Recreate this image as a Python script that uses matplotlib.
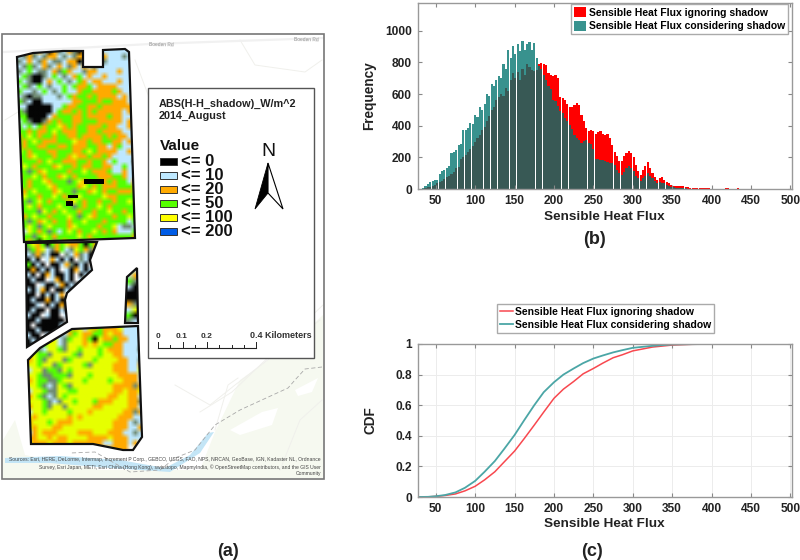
import numpy as np
import matplotlib
matplotlib.use('Agg')
import matplotlib.pyplot as plt
from matplotlib.colors import to_rgb
from matplotlib.patches import Polygon, Rectangle

plt.rcParams['font.family'] = ['Liberation Sans', 'DejaVu Sans']

# histogram counts, one value per 3 unit bin starting at 31
teal_counts = [2, 8, 20, 30, 42, 48, 55, 58, 95, 115, 120, 130, 148, 225, 235, 245, 280, 285, 375, 370,
               385, 415, 410, 470, 455, 520, 500, 535, 600, 590, 665, 650, 690, 715, 700, 790, 760, 880, 830, 905,
               850, 915, 870, 935, 880, 915, 930, 880, 920, 830, 780, 760, 720, 690, 650, 630, 560, 555, 525, 495,
               480, 450, 430, 405, 380, 340, 320, 310, 290, 305, 310, 290, 285, 255, 190, 190, 185, 185, 175, 170,
               165, 165, 150, 120, 100, 90, 110, 135, 145, 130, 115, 85, 70, 50, 70, 85, 100, 85, 70, 50,
               40, 42, 38, 35, 25, 20, 15, 10, 8, 6, 6, 5, 4, 3, 3, 2, 2, 2, 2, 1,
               1, 1, 1, 2, 2, 3, 2, 2, 1, 1]
red_counts = [0, 2, 5, 10, 15, 20, 28, 35, 45, 50, 65, 75, 80, 95, 110, 130, 140, 190, 200, 215,
              235, 250, 270, 300, 320, 340, 370, 390, 430, 460, 500, 520, 560, 580, 600, 590, 640, 620, 690, 730,
              700, 740, 690, 760, 720, 790, 770, 750, 745, 750, 790, 795, 790, 785, 730, 720, 715, 720, 700, 580,
              575, 560, 540, 520, 515, 530, 545, 530, 470, 430, 385, 365, 370, 365, 345, 360, 365, 350, 340, 345,
              320, 275, 235, 210, 180, 175, 210, 225, 240, 225, 200, 150, 115, 90, 120, 145, 170, 130, 100, 75,
              60, 70, 75, 60, 45, 35, 25, 20, 18, 20, 20, 20, 15, 10, 8, 8, 9, 5, 4, 5,
              8, 8, 6, 3, 2, 2, 1, 1, 2, 4, 5, 3, 2, 3, 4, 2, 2, 1, 2, 1]

# CDF curves
cdf_red_x = [27, 40, 50, 62, 75, 87, 100, 112, 125, 137, 150, 162, 175, 187, 200, 212, 225, 237, 250, 262, 275,
             287, 300, 312, 325, 350, 375, 400, 502]
cdf_red_y = [0, 0.001, 0.004, 0.01, 0.02, 0.04, 0.07, 0.112, 0.165, 0.23, 0.30, 0.38, 0.47, 0.555, 0.645, 0.705, 0.755,
             0.805, 0.84, 0.875, 0.91, 0.93, 0.955, 0.967, 0.98, 0.993, 0.998, 1, 1]
cdf_teal_x = [27, 40, 50, 62, 75, 87, 100, 112, 125, 137, 150, 162, 175, 187, 200, 212, 225, 237, 250, 262, 275,
              287, 300, 325, 350, 375, 400, 480]
cdf_teal_y = [0, 0.001, 0.005, 0.013, 0.03, 0.06, 0.105, 0.165, 0.235, 0.315, 0.405, 0.50, 0.60, 0.685, 0.75, 0.80, 0.84,
              0.875, 0.905, 0.925, 0.945, 0.96, 0.975, 0.988, 0.997, 0.999, 1, 1]

legend_names = ['Sensible Heat Flux ignoring shadow', 'Sensible Heat Flux considering shadow']
x_ticks = [50, 100, 150, 200, 250, 300, 350, 400, 450, 500]

# map legend
class_labels = ['<= 0', '<= 10', '<= 20', '<= 50', '<= 100', '<= 200']
class_colors = ['#000000', '#bee8ff', '#ffaa00', '#55ff00', '#ffff00', '#005ce6']
scale_labels = ['0', '0.1', '0.2', '0.4 Kilometers']

# field outlines in map pixels
field_top = [(17, 57), (33, 53), (63, 51), (83, 51), (83, 67), (103, 67), (103, 50), (125, 49), (129, 52),
             (135, 238), (24, 242)]
field_mid = [(26, 243), (97, 242), (90, 260), (92, 270), (67, 293), (65, 300), (67, 322), (27, 347)]
field_sliver = [(137, 268), (127, 277), (125, 323), (138, 323)]
field_low = [(72, 329), (138, 326), (142, 437), (133, 450), (123, 450), (93, 444), (31, 444), (28, 360), (40, 348)]
black_blocks = [(84, 179, 20, 5), (68, 195, 10, 3), (66, 201, 7, 5)]

# dominant class per 5 px cell, read by eye; n is a sparse black speckle
top_rows = [
    'nbonobkonbonkobnbbbbbbbb', 'bnonbnoobnbnoobnkobbbnbb', 'nbobnobnnbooknbobnbbbbbn', 'bngnbonbobnobobnbbbbbbbb',
    'nbgbnnbongobbnoobbbbobbb', 'bgnkknbgbnbogbobbobbbbbb', 'gbnkkbobgbnbgoboobbbobbb', 'bgnbgbnbbgbgoogboooobbbb',
    'gbbnbgbnbgbboggoooogobbb', 'bnknnbbbnbgoggogoooobobb', 'gnbkkbbbbbboogggoggooobb', 'bbkkkkkbbgooggoogoooooob',
    'gnkkkkkbgoogogogooooobob', 'ggkkkkbogggoogoooogoobbb', 'bgnkknogoggoogggooooobob', 'gbgbgoggyogoggooogoobbob',
    'ggogoogygoooggoogoooobbb', 'ogygoggoggoogoooogogoobb', 'gogygooogggyoogooggoobob', 'goggooggoogoooggoobogbbb',
    'ygogggoogggoogygoooobbob', 'ggoygggoggoyoogoogobbbbb', 'ogggogyggoooggoggobgbbbn', 'gygogggoyggogooggoobbgbb',
    'ggngoyggggoggygooogbbobb', 'oggygoggoygoggggoooggobb', 'ggoggyogggngyogggogoggbo', 'ygogggyoggggoygogooogggo',
    'gogygggoyggnggoygoggooog', 'gyggoggygoggyggggyoogggg', 'ogngygogggoygoggoggoggyg', 'ggygogggyggngoggygoggggg',
    'ygggnygogyggoggoggyggogg', 'gogyggogggygngyogggoggyg', 'ggngoygoggoggygggoggggbg', 'ogygngygggoyggggoggybnnb',
    'gbygogngbgygoggygogobbbg', 'gggngygoggggygoggggggggo', 'ngogkggngoggnggoggnggogg',
]
mid_rows = [
    'gyogkgogyoogkgo', 'ngoybnogbnygono', 'bnonbkkwnbonbkk', 'kbkwbobkbkwnbkk', 'gkbkwkkbonkbkwk', 'kokbkbkwbkobkbk',
    'bkwkobkkbkwkbkk', 'kbkkwbokbkwbokk', 'kkwbkkbokbkkwbb', 'bkbokwkkbkwbkkb', 'kkwkbkbowkbkkww', 'kbkkokbkkwbkkww',
    'kkbwkbkokbkwwww', 'kbkkwkkbkkbwwww', 'bkkwbkkwbkkwwww', 'kkbkkkkkwbkwwww', 'kwkkkkkbkkbwwww', 'kkbkkkkwkbkwwww',
    'bkkwbkkbwkkwwww', 'kbkkwkbkwwwwwww', 'kkbokwwwwwwwwww',
]
sliver_rows = ['gb', 'bo', 'gn', 'bk', 'kk', 'kk', 'on', 'by', 'gk', 'nb']
low_rows = [
    'wwwwwnbngoybyogoooybbbb', 'wwbnbgnbogyooggoyoobbbb', 'ybgnoybngyyogkyoogoobbb', 'byngyybnyyyoyoyggoobbbb',
    'oynbyygnyygyyygyooobbbn', 'yyggnyyyygnyyygyyoobbbb', 'oygnyyyngyyyygyyyyoobbn', 'yygyyngyyyygnyyyyooobbo',
    'byynggnygyyyyyyyyooobby', 'yygnngggnyyygyyyyyoooob', 'oyggnngyyyygyyyygyyooob', 'yygnbnygnyyyyyyyyoooono',
    'byygnnyyggyyyyyyyooyooy', 'oygnbnygyyyyyyyyooyyoob', 'yyygnbnyygyyygoooyyyoon', 'oyygnyynyyyyyooyyyyyoob',
    'byygyyyygyyyoyyyyyyoono', 'yoyyyyyyoyoyyyyyyyooobb', 'oyyygyoooyyyyyyyyooobnb', 'yoyyyooyyyyyyyyyyooobbo',
    'boyoooyyyyoooyyyooobbnb', 'ooyyoyooyyyyooooyooobbb', 'yoooyoooyoooooobbooobow', 'ooooooowwwoooooooooowww',
]
cell_colors = {'k': '#050505', 'n': '#6f8a72', 'b': '#bee8ff', 'o': '#ffaa00', 'g': '#55ff00', 'y': '#e6ff00',
               'w': '#ffffff'}

# faint base map
land_patches = [[(3, 478), (3, 440), (15, 420), (25, 455), (100, 470), (200, 470), (215, 432), (240, 380), (290, 345),
                 (323, 315), (323, 478)]]
lake_patches = [[(230, 430), (262, 412), (278, 408), (272, 425), (240, 435)], [(295, 390), (318, 378), (312, 392), (298, 396)]]
river = [(5, 458), (60, 456), (120, 460), (165, 468), (190, 455), (208, 433), (214, 432), (200, 453), (170, 472),
         (110, 468), (50, 463), (5, 463)]
path_x = [322, 305, 295, 288, 240, 215, 195, 175, 160, 130, 95, 70]
path_y = [367, 369, 380, 388, 410, 425, 450, 458, 470, 472, 452, 453]
contour_lines = [[(5, 120), (18, 112)], [(135, 60), (150, 100), (148, 125)], [(240, 40), (255, 65), (305, 72), (322, 60)],
                 [(175, 385), (210, 405), (235, 385), (320, 320)], [(200, 412), (232, 392), (323, 305)],
                 [(215, 430), (228, 385), (238, 378)], [(280, 470), (300, 420), (322, 400)]]

fig = plt.figure(figsize=(8, 5.6), dpi=100)


def to_axes(left, top, right, bottom):
    return [left / 800, 1 - bottom / 560, (right - left) / 800, (bottom - top) / 560]


def style_matlab(ax):
    for s in ax.spines.values():
        s.set_color('#999999')
        s.set_linewidth(1)
    ax.tick_params(direction='in', length=3, color='#888888', top=True, right=True, labelsize=8.6, pad=4.5)
    for t in ax.get_xticklabels() + ax.get_yticklabels():
        t.set_fontweight('bold')
        t.set_color('#222222')


# map panel, pixel coordinates
mp = fig.add_axes([0, 0, 1, 1], zorder=0)
mp.axis('off')

for p in land_patches:
    mp.add_patch(Polygon(p, closed=True, fc='#f6f9f0', ec='none'))
for p in lake_patches:
    mp.add_patch(Polygon(p, closed=True, fc='white', ec='none'))
mp.add_patch(Polygon(river, closed=True, fc='#c3e5f6', ec='none'))
for c in contour_lines:
    mp.plot([q[0] for q in c], [q[1] for q in c], color='#f0f0ec', lw=0.7)
mp.plot(path_x, path_y, color='#a8a8a8', lw=0.6, ls=(0, (5, 3)))
mp.plot([4, 150, 323], [52, 44, 38], color='#f1f1f1', lw=1.6)
mp.text(161, 45, 'Boeden Rd', fontsize=3.5, color='#888888', ha='center', va='center', rotation=-1)
mp.text(306, 40, 'Boeden Rd', fontsize=3.5, color='#888888', ha='center', va='center', rotation=-1)


def draw_field(rows, outline, box):
    n = max(len(r) for r in rows)
    img = np.array([[to_rgb(cell_colors[ch]) for ch in r.ljust(n, 'y')] for r in rows])
    im = mp.imshow(img, extent=box, interpolation='bilinear', aspect='auto', zorder=2)
    poly = Polygon(outline, closed=True, fc='none', ec='#111111', lw=1.6, joinstyle='miter', zorder=4)
    mp.add_patch(poly)
    im.set_clip_path(poly)


draw_field(top_rows, field_top, (17, 137, 244, 49))
draw_field(mid_rows, field_mid, (26, 98, 348, 242))
draw_field(sliver_rows, field_sliver, (125, 139, 324, 267))
draw_field(low_rows, field_low, (27, 143, 451, 326))
for b in black_blocks:
    mp.add_patch(Rectangle((b[0], b[1]), b[2], b[3], fc='black', ec='none', zorder=3))
mp.set_xlim(0, 800)
mp.set_ylim(560, 0)

mp.add_patch(Rectangle((1.5, 34), 322, 445, fc='none', ec='#777777', lw=1.2, zorder=5))
mp.add_patch(Rectangle((148, 88), 166, 270, fc='white', ec='#555555', lw=1, zorder=5))

mp.text(159, 104, 'ABS(H-H_shadow)_W/m^2', fontsize=7.8, fontweight='bold', color='#222222', va='center', zorder=6)
mp.text(159, 116, '2014_August', fontsize=7.8, fontweight='bold', color='#222222', va='center', zorder=6)
mp.text(160, 146, 'Value', fontsize=11, fontweight='bold', color='#111111', va='center', zorder=6)
for i in range(len(class_labels)):
    y = 161 + i * 14
    mp.add_patch(Rectangle((160, y - 3.5), 17, 7.5, fc=class_colors[i], ec='#333333', lw=0.7, zorder=6))
    mp.text(181, y, class_labels[i], fontsize=12, fontweight='bold', color='#111111', va='center', zorder=6)

# north arrow
mp.text(268, 151, 'N', fontsize=14, color='#111111', ha='center', va='center', zorder=6)
mp.add_patch(Polygon([(268, 163), (255, 209), (268, 193)], closed=True, fc='black', ec='black', lw=0.6, zorder=6))
mp.add_patch(Polygon([(268, 163), (283, 209), (268, 193)], closed=True, fc='white', ec='black', lw=0.8, zorder=6))

# scale bar
mp.plot([158, 256], [348, 348], color='#222222', lw=0.8, zorder=6)
for i in range(9):
    tx = 158 + i * 12.25
    mp.plot([tx, tx], [348, 342 if i in (0, 2, 4, 8) else 345], color='#222222', lw=0.7, zorder=6)
mp.text(158, 336, scale_labels[0], fontsize=6, fontweight='bold', ha='center', va='center', color='#333333', zorder=6)
mp.text(182, 336, scale_labels[1], fontsize=6, fontweight='bold', ha='center', va='center', color='#333333', zorder=6)
mp.text(207, 336, scale_labels[2], fontsize=6, fontweight='bold', ha='center', va='center', color='#333333', zorder=6)
mp.text(250, 336, scale_labels[3], fontsize=6.5, fontweight='bold', ha='left', va='center', color='#333333', zorder=6)

mp.text(321, 459, 'Sources: Esri, HERE, DeLorme, Intermap, increment P Corp., GEBCO, USGS, FAO, NPS, NRCAN, GeoBase, IGN, Kadaster NL, Ordnance',
        fontsize=3.6, color='#444444', ha='right', va='center', zorder=6)
mp.text(321, 467, 'Survey, Esri Japan, METI, Esri China (Hong Kong), swisstopo, MapmyIndia, \u00a9 OpenStreetMap contributors, and the GIS User',
        fontsize=3.6, color='#444444', ha='right', va='center', zorder=6)
mp.text(321, 474, 'Community', fontsize=3.6, color='#444444', ha='right', va='center', zorder=6)

mp.text(228, 551, '(a)', fontsize=13, fontweight='bold', color='#222222', ha='center', va='center')
mp.text(595, 239, '(b)', fontsize=13, fontweight='bold', color='#222222', ha='center', va='center')
mp.text(592, 551, '(c)', fontsize=13, fontweight='bold', color='#222222', ha='center', va='center')

# histogram
ax1 = fig.add_axes(to_axes(418, 3, 792, 189), zorder=1)
red_pos = 31 + 3 * np.arange(len(red_counts))
teal_pos = 31 + 3 * np.arange(len(teal_counts))
ax1.bar(red_pos, red_counts, width=2.7, color='#ff0000', label=legend_names[0])
ax1.bar(teal_pos, teal_counts, width=2.7, color='#00736e', alpha=0.78, label=legend_names[1])
ax1.set_xlim(27.5, 502)
ax1.set_ylim(0, 1175)
ax1.set_xticks(x_ticks)
ax1.set_yticks([0, 200, 400, 600, 800, 1000])
ax1.set_xlabel('Sensible Heat Flux', fontsize=9.7, fontweight='bold', color='#222222')
ax1.set_ylabel('Frequency', fontsize=9.8, fontweight='bold', color='#222222')
ax1.xaxis.set_label_coords(0.497, -0.118)
ax1.yaxis.set_label_coords(-0.112, 0.5)
style_matlab(ax1)
leg = ax1.legend(loc='upper right', bbox_to_anchor=(0.99, 0.995), borderaxespad=0, fontsize=7.5, fancybox=False,
                 edgecolor='#aaaaaa', framealpha=1, handlelength=1.1, handleheight=1.1, handletextpad=0.3,
                 labelspacing=0.3, borderpad=0.3)
for t in leg.get_texts():
    t.set_fontweight('bold')

# CDF
ax2 = fig.add_axes(to_axes(418, 344, 792, 497), zorder=1)
ax2.plot(cdf_red_x, cdf_red_y, color='#f8484f', lw=1.1, label=legend_names[0])
ax2.plot(cdf_teal_x, cdf_teal_y, color='#4ba6a6', lw=1.3, label=legend_names[1])
ax2.set_xlim(27.5, 502)
ax2.set_ylim(0, 1)
ax2.set_xticks(x_ticks)
ax2.set_yticks([0, 0.2, 0.4, 0.6, 0.8, 1])
ax2.set_yticklabels(['0', '0.2', '0.4', '0.6', '0.8', '1'])
ax2.grid(True, color='#ececec', lw=0.7)
ax2.set_xlabel('Sensible Heat Flux', fontsize=9.7, fontweight='bold', color='#222222')
ax2.set_ylabel('CDF', fontsize=9.8, fontweight='bold', color='#222222')
ax2.xaxis.set_label_coords(0.497, -0.137)
ax2.yaxis.set_label_coords(-0.108, 0.5)
style_matlab(ax2)
leg2 = ax2.legend(loc='lower left', bbox_to_anchor=(0.211, 1.072), borderaxespad=0, fontsize=7.5, fancybox=False,
                  edgecolor='#aaaaaa', framealpha=1, handlelength=1.2, handletextpad=0.2, labelspacing=0.3,
                  borderpad=0.3)
for t in leg2.get_texts():
    t.set_fontweight('bold')

fig.savefig('out.png', dpi=100)
